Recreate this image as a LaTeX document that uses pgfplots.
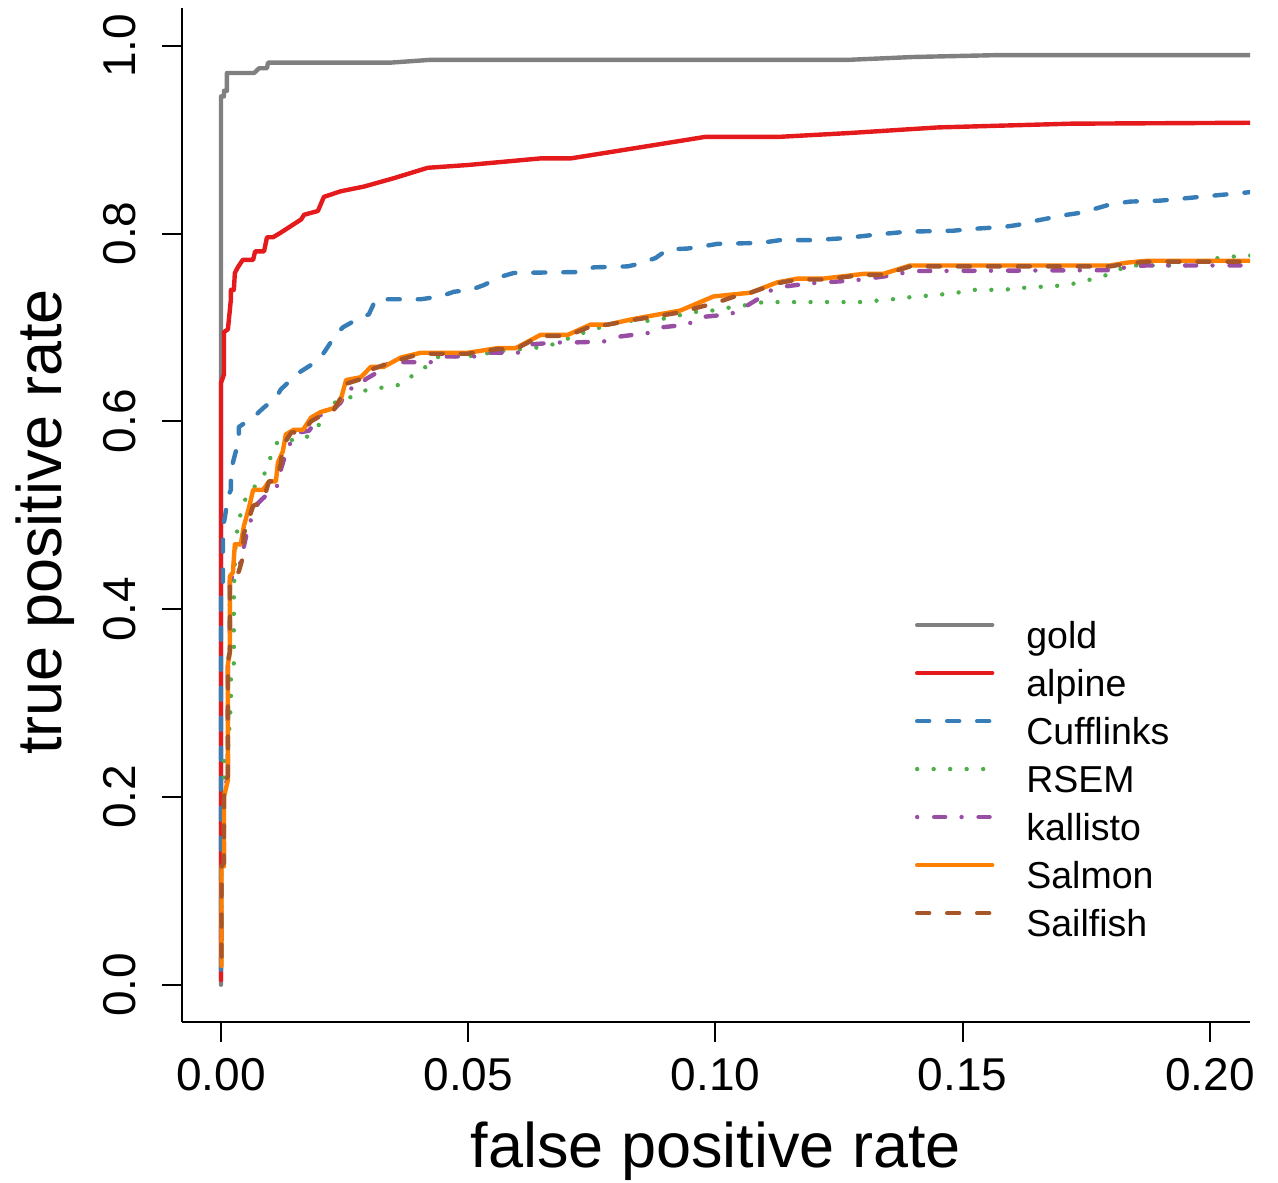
\documentclass[border=0pt]{standalone}
\usepackage{fontspec}
\setmainfont{Liberation Sans}
\usepackage{pgfplots}
\pgfplotsset{compat=1.18}

\definecolor{cgold}{HTML}{808080}
\definecolor{calpine}{HTML}{E41A1C}
\definecolor{ccuff}{HTML}{377EB8}
\definecolor{crsem}{HTML}{4DAF4A}
\definecolor{ckal}{HTML}{984EA3}
\definecolor{csalmon}{HTML}{FF7F00}
\definecolor{csail}{HTML}{A65628}

\begin{document}
\begin{tikzpicture}
\useasboundingbox (-91pt,-80pt) rectangle (548pt,511pt);
\begin{axis}[
    scale only axis,
    width=534pt, height=507pt,
    xmin=-0.00789, xmax=0.2081,
    ymin=-0.0397, ymax=1.0402,
    axis x line*=bottom, axis y line*=left,
    axis line style={line width=1pt, black},
    tick align=outside, major tick length=10pt,
    tick style={line width=1pt, black},
    xtick={0,0.05,0.1,0.15,0.2},
    xticklabels={0.00,0.05,0.10,0.15,0.20},
    ytick={0,0.2,0.4,0.6,0.8,1},
    yticklabels={0.0,0.2,0.4,0.6,0.8,1.0},
    tick label style={font=\fontsize{23}{27}\selectfont},
    xticklabel style={anchor=north, inner sep=0pt, yshift=-8pt},
    yticklabel style={rotate=90, anchor=base, inner sep=0pt, yshift=13pt},
    xlabel={false positive rate},
    ylabel={true positive rate},
    label style={font=\fontsize{31.5}{38}\selectfont},
    xlabel style={at={(axis description cs:0.5,-0.143)}, anchor=base},
    ylabel style={at={(axis description cs:-0.1124,0.493)}, anchor=base, rotate=0},
    legend cell align=left,
    legend image code/.code={\draw[#1] (0pt,6.5pt) -- (37.5pt,6.5pt);},
    legend style={draw=none, fill=none, inner sep=0pt, outer sep=0pt,
        at={(rel axis cs:0.6863,0.3964)}, anchor=north west,
        font=\fontsize{18.75}{22}\selectfont, row sep=6pt,
        nodes={inner sep=0pt, text height=14pt, text depth=4pt},
        /tikz/every odd column/.append style={column sep=16pt}},
    every axis plot/.append style={line width=2.2pt, line join=round, line cap=round},
]
% gold
\addplot[cgold] coordinates {
(0,0) (0,0.946) (0.0006,0.946) (0.0006,0.952) (0.0012,0.952) (0.0012,0.971)
(0.0067,0.971) (0.0077,0.976) (0.0093,0.976) (0.0095,0.982) (0.0343,0.982)
(0.0424,0.985) (0.127,0.985) (0.14,0.988) (0.157,0.990) (0.21,0.990)};
\addlegendentry{gold}
% alpine
\addplot[calpine] coordinates {
(0,0.005) (0,0.641) (0.0006,0.650) (0.0006,0.695) (0.0014,0.698) (0.0020,0.730)
(0.0020,0.740) (0.0026,0.740) (0.0028,0.758) (0.0034,0.764) (0.0044,0.772)
(0.0065,0.772) (0.0069,0.781) (0.0087,0.781) (0.0093,0.796) (0.0105,0.796)
(0.0121,0.801) (0.0162,0.815) (0.0168,0.820) (0.0196,0.824) (0.0208,0.839)
(0.0242,0.845) (0.0289,0.850) (0.035,0.859) (0.0418,0.870) (0.05,0.873)
(0.0646,0.880) (0.0707,0.880) (0.085,0.892) (0.098,0.903) (0.113,0.903)
(0.127,0.907) (0.145,0.913) (0.172,0.917) (0.21,0.918)};
\addlegendentry{alpine}
% Cufflinks
\addplot[ccuff, dash pattern=on 6pt off 9pt] coordinates {
(0,0.016) (0,0.42) (0.0004,0.42) (0.0004,0.488) (0.0008,0.498) (0.0014,0.520)
(0.002,0.527) (0.002,0.545) (0.0024,0.556) (0.0036,0.580) (0.0036,0.594)
(0.0067,0.605) (0.0085,0.614) (0.0111,0.625) (0.0121,0.634) (0.0147,0.647)
(0.0158,0.652) (0.0188,0.662) (0.0208,0.673) (0.0228,0.689) (0.0246,0.700)
(0.0273,0.708) (0.0299,0.714) (0.0313,0.730) (0.0404,0.730) (0.0444,0.733)
(0.0471,0.738) (0.0505,0.740) (0.0531,0.745) (0.0566,0.754) (0.0592,0.758)
(0.0721,0.759) (0.0754,0.764) (0.0822,0.765) (0.0848,0.768) (0.0879,0.774)
(0.0903,0.783) (0.0943,0.784) (0.097,0.786) (0.1004,0.789) (0.1091,0.790)
(0.1131,0.793) (0.1198,0.793) (0.1259,0.795) (0.1327,0.799) (0.1388,0.802)
(0.1481,0.803) (0.1521,0.805) (0.1582,0.807) (0.161,0.809) (0.1642,0.813)
(0.1671,0.816) (0.1711,0.820) (0.1737,0.822) (0.1772,0.827) (0.1798,0.831)
(0.1838,0.834) (0.1899,0.835) (0.21,0.845)};
\addlegendentry{Cufflinks}
% RSEM
\addplot[crsem, dash pattern=on 0pt off 8.25pt] coordinates {
(0.0001,0.03) (0.0001,0.13) (0.0006,0.13) (0.0006,0.24) (0.0014,0.25)
(0.0020,0.30) (0.0020,0.33) (0.0026,0.34) (0.0026,0.42) (0.0030,0.476)
(0.0042,0.508) (0.0055,0.524) (0.0071,0.532) (0.0087,0.543) (0.0097,0.557)
(0.0107,0.572) (0.0117,0.580) (0.0166,0.580) (0.0188,0.590) (0.0210,0.604)
(0.0214,0.620) (0.0238,0.620) (0.0301,0.635) (0.0331,0.636) (0.0362,0.639)
(0.0388,0.649) (0.0414,0.658) (0.0440,0.669) (0.0499,0.669) (0.0566,0.675)
(0.0630,0.678) (0.0661,0.680) (0.0691,0.686) (0.0721,0.692) (0.0752,0.698)
(0.0782,0.702) (0.0812,0.707) (0.0875,0.707) (0.0909,0.711) (0.0974,0.718)
(0.1004,0.718) (0.1034,0.722) (0.1067,0.724) (0.1097,0.727) (0.1293,0.727)
(0.1358,0.730) (0.139,0.732) (0.1455,0.735) (0.1489,0.737) (0.1519,0.740)
(0.1582,0.740) (0.1616,0.742) (0.1681,0.744) (0.1711,0.745) (0.1743,0.749)
(0.1774,0.753) (0.1804,0.758) (0.1832,0.766) (0.196,0.766) (0.1994,0.773)
(0.2024,0.774) (0.2057,0.776) (0.21,0.777)};
\addlegendentry{RSEM}
% kallisto
\addplot[ckal, dash pattern=on 0pt off 8.5pt on 5.5pt off 8.2pt] coordinates {
(0.0001,0.03) (0.0001,0.13) (0.0006,0.13) (0.0006,0.21) (0.0014,0.22)
(0.0014,0.34) (0.0018,0.35) (0.0018,0.43) (0.0028,0.44) (0.0040,0.45)
(0.0046,0.460) (0.0046,0.466) (0.0055,0.488) (0.0075,0.513) (0.0097,0.524)
(0.0115,0.532) (0.0115,0.538) (0.0127,0.559) (0.0141,0.578) (0.0156,0.588)
(0.0178,0.590) (0.0202,0.607) (0.0216,0.607) (0.0242,0.620) (0.0257,0.635)
(0.0273,0.635) (0.0293,0.645) (0.0319,0.653) (0.0340,0.663) (0.0424,0.663)
(0.0455,0.669) (0.0511,0.669) (0.0539,0.673) (0.0600,0.673) (0.0626,0.682)
(0.0683,0.684) (0.0713,0.684) (0.0774,0.685) (0.0802,0.690) (0.0863,0.694)
(0.0889,0.700) (0.0943,0.703) (0.0970,0.711) (0.1030,0.714) (0.1057,0.721)
(0.1085,0.730) (0.1105,0.738) (0.1131,0.743) (0.1192,0.747) (0.1279,0.750)
(0.1309,0.752) (0.1364,0.756) (0.1394,0.760) (0.1804,0.761) (0.1838,0.765)
(0.1873,0.766) (0.21,0.766)};
\addlegendentry{kallisto}
% Salmon
\addplot[csalmon] coordinates {
(0.0001,0.02) (0.0001,0.126) (0.0006,0.126) (0.0006,0.200) (0.0014,0.218)
(0.0014,0.341) (0.0018,0.354) (0.0018,0.435) (0.0024,0.439) (0.0028,0.469)
(0.004,0.469) (0.0046,0.488) (0.0057,0.509) (0.0065,0.527) (0.0085,0.527)
(0.0097,0.536) (0.0111,0.536) (0.0115,0.556) (0.0125,0.568) (0.0131,0.586)
(0.0147,0.591) (0.0166,0.591) (0.0182,0.604) (0.0202,0.610) (0.0228,0.614)
(0.0242,0.623) (0.0253,0.644) (0.0283,0.647) (0.0303,0.658) (0.0329,0.658)
(0.0364,0.668) (0.0404,0.673) (0.0499,0.673) (0.056,0.678) (0.0596,0.678)
(0.0646,0.692) (0.0701,0.692) (0.0747,0.703) (0.0782,0.703) (0.0834,0.709)
(0.0929,0.718) (0.0996,0.733) (0.1071,0.737) (0.1125,0.748) (0.1166,0.752)
(0.1218,0.752) (0.1299,0.757) (0.1339,0.757) (0.1394,0.766) (0.1798,0.766)
(0.1832,0.769) (0.1873,0.771) (0.21,0.771)};
\addlegendentry{Salmon}
% Sailfish
\addplot[csail, dash pattern=on 6pt off 9pt] coordinates {
(0.0001,0.03) (0.0001,0.126) (0.0006,0.13) (0.0006,0.215) (0.0014,0.222)
(0.0014,0.345) (0.0018,0.355) (0.0018,0.43) (0.0036,0.44) (0.0044,0.455)
(0.0046,0.48) (0.0065,0.51) (0.0085,0.515) (0.0097,0.536) (0.0111,0.536)
(0.0121,0.555) (0.0125,0.574) (0.0142,0.588) (0.0166,0.589) (0.0182,0.600)
(0.0202,0.606) (0.0228,0.612) (0.0240,0.623) (0.0253,0.640) (0.0283,0.645)
(0.0303,0.655) (0.0329,0.660) (0.0364,0.666) (0.0404,0.672) (0.0499,0.672)
(0.056,0.677) (0.0596,0.677) (0.0646,0.691) (0.0701,0.691) (0.0747,0.701)
(0.0782,0.703) (0.0834,0.708) (0.0929,0.716) (0.0970,0.722) (0.1000,0.726)
(0.1050,0.735) (0.1071,0.737) (0.1125,0.747) (0.1166,0.751) (0.1218,0.751)
(0.1299,0.756) (0.1339,0.756) (0.1394,0.765) (0.1798,0.765) (0.1832,0.768)
(0.1873,0.770) (0.21,0.770)};
\addlegendentry{Sailfish}
\end{axis}
\end{tikzpicture}
\end{document}
